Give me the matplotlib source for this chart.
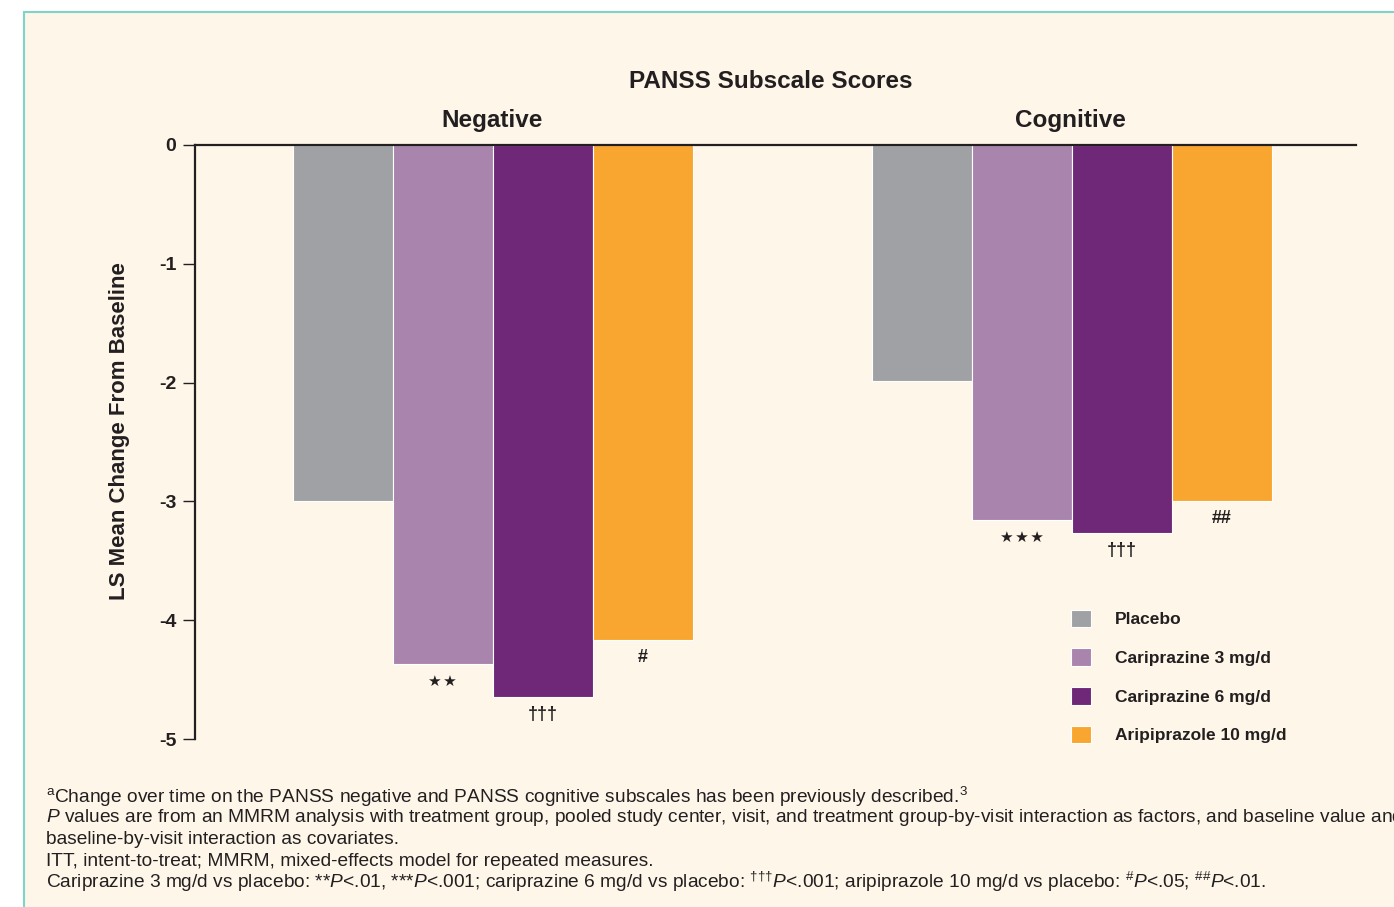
import matplotlib
matplotlib.use('Agg')
import numpy as np
from matplotlib import pyplot as plt
from matplotlib.patches import Rectangle

# data
groups = ['Negative', 'Cognitive']
treatments = ['Placebo', 'Cariprazine 3 mg/d', 'Cariprazine 6 mg/d',
              'Aripiprazole 10 mg/d']
negative = [-3.0, -4.37, -4.65, -4.17]
cognitive = [-1.99, -3.16, -3.27, -3.0]
neg_marks = ['', '★\u200a★', '†††', '#']
cog_marks = ['', '★\u200a★\u200a★', '†††', '##']
colors = ['#A0A1A4', '#A984AD', '#6E2877', '#F8A62F']
yticks = [0, -1, -2, -3, -4, -5]

footnotes = [
    r'$^{\mathrm{a}}$Change over time on the PANSS negative and PANSS cognitive subscales has been previously described.$^{\mathrm{3}}$',
    r'$\mathit{P}$ values are from an MMRM analysis with treatment group, pooled study center, visit, and treatment group-by-visit interaction as factors, and baseline value and',
    'baseline-by-visit interaction as covariates.',
    'ITT, intent-to-treat; MMRM, mixed-effects model for repeated measures.',
    r'Cariprazine 3 mg/d vs placebo: **$\mathit{P}$<.01, ***$\mathit{P}$<.001; cariprazine 6 mg/d vs placebo: $^{\mathrm{†††}}\mathit{P}$<.001; aripiprazole 10 mg/d vs placebo: $^{\mathrm{\#}}\mathit{P}$<.05; $^{\mathrm{\#\#}}\mathit{P}$<.01.',
]

plt.rcParams['font.family'] = ['Liberation Sans', 'DejaVu Sans']
plt.rcParams['mathtext.fontset'] = 'custom'
plt.rcParams['mathtext.rm'] = 'Liberation Sans'
plt.rcParams['mathtext.it'] = 'Liberation Sans:italic'
plt.rcParams['mathtext.bf'] = 'Liberation Sans:bold'

ink = '#231F20'
bg = '#FDF6E9'
W, H = 1394, 907

fig = plt.figure(figsize=(W / 100, H / 100), dpi=100, facecolor='white')
# cream panel with teal border, kept behind the axes
fig.patches.append(Rectangle((24 / W, -0.1), 1.1, 1 - 12 / H + 0.1,
                             transform=fig.transFigure, facecolor=bg,
                             edgecolor='#7ED3CB', linewidth=1.5, zorder=-5))

ax = fig.add_axes([195 / W, 1 - 739 / H, (1356 - 195) / W, 594 / H])
ax.set_facecolor('none')

centers = np.array([0.0, 5.795])
offsets = np.array([-1.5, -0.5, 0.5, 1.5])
handles = []
for i, t in enumerate(treatments):
    vals = [negative[i], cognitive[i]]
    b = ax.bar(centers + offsets[i], vals, width=1.0, color=colors[i],
               edgecolor='white', linewidth=0.8, label=t)
    handles.append(b)
    for x, v, m in zip(centers + offsets[i], vals, [neg_marks[i], cog_marks[i]]):
        if not m:
            continue
        if '★' in m:
            ax.annotate(m, (x, v), xytext=(0, -12.5), textcoords='offset points',
                        ha='center', va='center', fontsize=11, color=ink,
                        family=['DejaVu Sans'])
        else:
            ax.annotate(m, (x, v), xytext=(0, -12), textcoords='offset points',
                        ha='center', va='center', fontsize=13,
                        fontweight='bold', color=ink)

ax.set_xlim(-2.975, 8.635)
ax.set_ylim(-5, 0)
ax.set_yticks(yticks)
ax.set_yticklabels([str(v) for v in yticks], fontsize=14, fontweight='bold',
                   color=ink)
ax.set_xticks([])
for s in ['bottom', 'right']:
    ax.spines[s].set_visible(False)
for s in ['left', 'top']:
    ax.spines[s].set_linewidth(1.6)
    ax.spines[s].set_color(ink)
ax.tick_params(axis='y', length=8.5, width=1.0, color=ink, pad=5)

ax.set_ylabel('LS Mean Change From Baseline', fontsize=16, fontweight='bold',
              color=ink)
ax.yaxis.set_label_coords(-0.056, 0.518)

fig.text(771 / W, 1 - 81 / H, 'PANSS Subscale Scores', ha='center',
         va='center', fontsize=17.5, fontweight='bold', color=ink)
fig.text(492 / W, 1 - 120 / H, groups[0], ha='center', va='center',
         fontsize=17.5, fontweight='bold', color=ink)
fig.text(1070 / W, 1 - 120 / H, groups[1], ha='center', va='center',
         fontsize=17.5, fontweight='bold', color=ink)

leg = fig.legend(handles=handles, labels=treatments, loc='upper left',
                 bbox_to_anchor=(1055 / W, 1 - 594 / H), frameon=False,
                 fontsize=12.5, handlelength=1.2, handleheight=1.2,
                 handletextpad=1.35, labelspacing=1.2)
for txt in leg.get_texts():
    txt.set_fontweight('bold')
    txt.set_color(ink)

ys = [797, 818, 840, 861, 882]
for y, line in zip(ys, footnotes):
    fig.text(46 / W, 1 - y / H, line, ha='left', va='center', fontsize=13.8,
             color=ink)

fig.savefig('out.png', dpi=100, facecolor='white')
